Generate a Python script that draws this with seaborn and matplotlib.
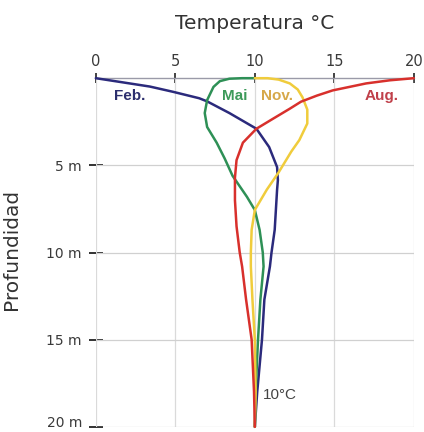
import matplotlib
matplotlib.use("Agg")
import matplotlib.pyplot as plt
import matplotlib.transforms as mtransforms
import seaborn as sns
import pandas as pd

# ---- data (temperature °C vs depth m) ----
feb_temp  = [0.0, 1.7, 3.4, 4.85, 6.5, 7.0, 8.4, 10.1, 10.9, 11.4, 11.45, 11.4, 11.25, 11.05, 10.95, 10.6, 10.45, 10.15, 10.0]
feb_depth = [0.0, 0.24, 0.48, 0.78, 1.15, 1.33, 2.0, 2.9, 3.95, 5.1, 5.85, 6.4, 8.7, 10.0, 10.8, 12.7, 15.0, 18.0, 20.0]

mai_temp  = [10.0, 9.2, 8.4, 7.8, 7.4, 7.0, 6.85, 7.0, 7.6, 8.1, 8.6, 9.5, 10.0, 10.3, 10.5, 10.55, 10.35, 10.2, 10.05, 10.0]
mai_depth = [0.0, 0.0, 0.03, 0.17, 0.5, 1.26, 2.0, 2.8, 3.7, 4.6, 5.6, 6.8, 7.56, 8.7, 10.0, 10.8, 12.7, 15.0, 18.0, 20.0]

nov_temp  = [10.0, 10.8, 11.5, 12.2, 12.7, 13.0, 13.3, 13.3, 12.8, 12.3, 11.5, 10.75, 10.0, 9.8, 9.75, 9.75, 9.85, 10.0, 10.05, 10.0]
nov_depth = [0.0, 0.0, 0.08, 0.3, 0.65, 1.1, 1.8, 2.6, 3.55, 4.2, 5.4, 6.4, 7.56, 8.7, 10.0, 10.8, 12.7, 15.0, 18.0, 20.0]

aug_temp  = [20.0, 18.5, 17.0, 14.9, 13.9, 12.9, 12.2, 11.1, 10.1, 9.25, 8.85, 8.75, 8.75, 8.85, 9.05, 9.2, 9.45, 9.8, 9.95, 10.0]
aug_depth = [0.0, 0.12, 0.3, 0.7, 1.0, 1.35, 1.75, 2.35, 2.9, 3.7, 4.7, 5.7, 7.0, 8.5, 10.0, 10.8, 12.7, 15.0, 18.0, 20.0]

months = ["Feb.", "Mai", "Nov.", "Aug."]
line_colors = ["#2b2a7c", "#2e9056", "#f0cc3c", "#d8302c"]
label_colors = ["#2d2f6e", "#3d9a5a", "#d6a84a", "#c0404a"]
label_pos = [(2.15, 1.05), (8.75, 1.05), (11.4, 1.05), (18.0, 1.05)]

x_ticks = [0, 5, 10, 15, 20]
y_ticks = [5, 10, 15, 20]
y_ticklabels = ["5 m", "10 m", "15 m", "20 m"]

rows = []
for m, ts, ds in zip(months, [feb_temp, mai_temp, nov_temp, aug_temp],
                     [feb_depth, mai_depth, nov_depth, aug_depth]):
    for i, (t, d) in enumerate(zip(ts, ds)):
        rows.append({"mes": m, "temp": t, "depth": d, "order": i})
df = pd.DataFrame(rows)

sns.set_theme(style="white")
plt.rcParams["font.family"] = ["DejaVu Sans"]

fig = plt.figure(figsize=(4.24, 4.32), dpi=100)
ax = fig.add_axes([0.226, 0.012, 0.75, 0.807])

sns.lineplot(data=df, x="temp", y="depth", hue="mes", hue_order=months,
             palette=line_colors, sort=False, estimator=None, orient="y",
             linewidth=1.8, legend=False, ax=ax, zorder=3)
for l in ax.lines:
    l.set_clip_on(False)
    l.set_solid_capstyle("round")
    l.set_solid_joinstyle("round")

ax.set_xlim(0, 20)
ax.set_ylim(20, 0)

ax.xaxis.tick_top()
ax.set_xticks(x_ticks)
ax.set_xticklabels([str(v) for v in x_ticks], fontsize=10.5, color="#3a3a3a")
ax.set_yticks(y_ticks)
ax.set_yticklabels(y_ticklabels, fontsize=10, color="#3a3a3a")
ax.tick_params(axis="x", direction="inout", length=7, width=1.2, color="#222222", pad=3)
ax.tick_params(axis="y", direction="inout", length=10, width=1.3, color="#222222", pad=5, left=True)

# keep the bottom tick label inside the figure
lbl = ax.get_yticklabels()[-1]
lbl.set_transform(lbl.get_transform() + mtransforms.ScaledTranslation(0, 4/72, fig.dpi_scale_trans))

for v in x_ticks:
    ax.axvline(v, color="#dadada", lw=0.9, zorder=1)
for v in y_ticks:
    ax.axhline(v, color="#d0d0d0", lw=0.9, zorder=1)
ax.axhline(0, color="#9a9aa8", lw=1.0, zorder=2, clip_on=False)

for s in ax.spines.values():
    s.set_visible(False)

ax.set_xlabel("Temperatura °C", fontsize=14.5, color="#333333", labelpad=18)
ax.xaxis.set_label_position("top")
ax.set_ylabel("Profundidad", fontsize=14.5, color="#333333")
ax.yaxis.set_label_coords(-0.235, 0.51)

for m, c, (tx, ty) in zip(months, label_colors, label_pos):
    ax.text(tx, ty, m, color=c, fontsize=11, fontweight="bold",
            ha="center", va="center", zorder=4, family=["Liberation Sans"])
ax.text(10.5, 18.17, "10°C", color="#444444", fontsize=11, ha="left", va="center",
        family=["Liberation Sans"])

fig.savefig("out.png", dpi=100)
